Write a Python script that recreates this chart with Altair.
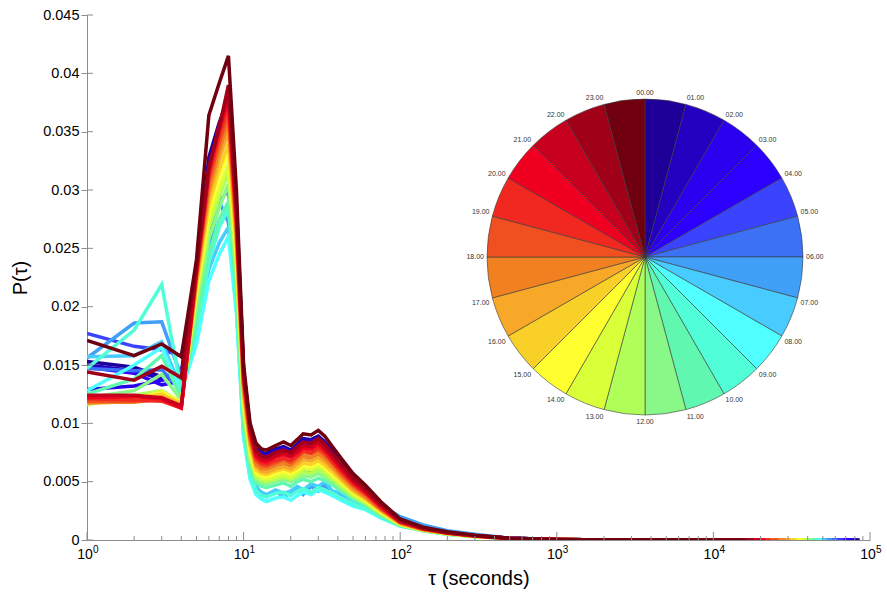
import altair as alt
import pandas as pd

HOURS = [f"{h:02d}" for h in range(24)]
LABELS = [f"{h:02d}.00" for h in range(24)]
COLORS = ["#1e0099", "#2400c0", "#2a00ef", "#2c00ff", "#3a44ff", "#3c70f5",
          "#40a0f8", "#48ccff", "#50ffff", "#50ffd8", "#60f8b0", "#88f888",
          "#b0ff58", "#d8ff38", "#ffff30", "#f8d028", "#f8a828", "#f08020",
          "#f05020", "#f02820", "#f00020", "#c80020", "#a00018", "#700010"]

TAU = [1, 2, 3, 4, 5, 6, 7, 8, 9, 10, 11, 12, 13, 14, 16, 18, 20, 22, 24, 27, 30,
       33, 37, 42, 50, 60, 75, 100, 140, 200, 300, 500, 1000]

P00 = [0.0153, 0.0148, 0.0140, 0.0143, 0.0236, 0.0328, 0.0358, 0.0378, 0.0286, 0.0146, 0.0095, 0.0079, 0.0075, 0.0074, 0.0078, 0.0080, 0.0077, 0.0082, 0.0087, 0.0086, 0.0089, 0.0084, 0.0076, 0.0067, 0.0055, 0.0046, 0.0032, 0.0018, 0.0011, 0.0007, 0.0004, 0.00015, 0.00005]
P01 = [0.0150, 0.0145, 0.0138, 0.0141, 0.0232, 0.0322, 0.0352, 0.0370, 0.0280, 0.0142, 0.0093, 0.0078, 0.0074, 0.0073, 0.0077, 0.0079, 0.0076, 0.0081, 0.0086, 0.0085, 0.0088, 0.0083, 0.0075, 0.0066, 0.0054, 0.0045, 0.0031, 0.0018, 0.0011, 0.00068, 0.00039, 0.00015, 0.00005]
P02 = [0.0129, 0.0132, 0.0137, 0.0140, 0.0228, 0.0316, 0.0346, 0.0364, 0.0274, 0.0139, 0.0091, 0.0077, 0.0073, 0.0072, 0.0075, 0.0078, 0.0075, 0.0080, 0.0084, 0.0083, 0.0086, 0.0082, 0.0073, 0.0064, 0.0053, 0.0044, 0.0031, 0.0017, 0.00105, 0.00066, 0.00038, 0.00014, 0.00005]
P03 = [0.0148, 0.0143, 0.0133, 0.0136, 0.0225, 0.0310, 0.0340, 0.0357, 0.0268, 0.0135, 0.0089, 0.0076, 0.0072, 0.0071, 0.0074, 0.0077, 0.0074, 0.0078, 0.0082, 0.0081, 0.0084, 0.0080, 0.0072, 0.0063, 0.0052, 0.0043, 0.0030, 0.0017, 0.00105, 0.00065, 0.00038, 0.00014, 0.00005]
P04 = [0.0177, 0.0166, 0.0163, 0.0158, 0.0215, 0.0290, 0.0318, 0.0335, 0.0250, 0.0122, 0.0079, 0.0066, 0.0062, 0.0061, 0.0064, 0.0066, 0.0063, 0.0067, 0.0071, 0.0069, 0.0072, 0.0068, 0.0062, 0.0054, 0.0045, 0.0037, 0.0027, 0.0016, 0.0010, 0.0006, 0.00036, 0.00014, 0.00005]
P05 = [0.0147, 0.0145, 0.0146, 0.0128, 0.0195, 0.0262, 0.0290, 0.0300, 0.0222, 0.0105, 0.0064, 0.0057, 0.0052, 0.0050, 0.0054, 0.0055, 0.0052, 0.0057, 0.0060, 0.0057, 0.0062, 0.0058, 0.0053, 0.0047, 0.0040, 0.0034, 0.0026, 0.0016, 0.0010, 0.0006, 0.00036, 0.00013, 0.00005]
P06 = [0.0156, 0.0186, 0.0187, 0.0140, 0.0185, 0.0250, 0.0290, 0.0272, 0.0205, 0.0095, 0.0057, 0.0046, 0.0040, 0.0037, 0.0042, 0.0037, 0.0040, 0.0044, 0.0039, 0.0046, 0.0042, 0.0047, 0.0038, 0.0039, 0.0034, 0.0031, 0.0030, 0.0020, 0.0013, 0.0008, 0.0005, 0.00016, 0.00007]
P07 = [0.0157, 0.0158, 0.0170, 0.0130, 0.0175, 0.0232, 0.0255, 0.0268, 0.0198, 0.0090, 0.0054, 0.0045, 0.0041, 0.0039, 0.0043, 0.0040, 0.0042, 0.0046, 0.0043, 0.0048, 0.0046, 0.0050, 0.0042, 0.0040, 0.0033, 0.0029, 0.0022, 0.0014, 0.0009, 0.0006, 0.0003, 0.00015, 0.00006]
P08 = [0.0128, 0.0150, 0.0165, 0.0127, 0.0168, 0.0222, 0.0245, 0.0260, 0.0195, 0.0088, 0.0052, 0.0039, 0.0035, 0.0033, 0.0036, 0.0037, 0.0034, 0.0038, 0.0041, 0.0039, 0.0043, 0.0041, 0.0038, 0.0034, 0.0029, 0.0026, 0.0019, 0.0012, 0.0009, 0.0005, 0.00035, 0.00013, 0.00006]
P09 = [0.0147, 0.0180, 0.0219, 0.0128, 0.0180, 0.0238, 0.0268, 0.0284, 0.0205, 0.0095, 0.0058, 0.0042, 0.0038, 0.0037, 0.0040, 0.0041, 0.0038, 0.0042, 0.0044, 0.0041, 0.0045, 0.0043, 0.0040, 0.0036, 0.0031, 0.0027, 0.0020, 0.0012, 0.0008, 0.0005, 0.0003, 0.00012, 0.00005]
P10 = [0.0125, 0.0138, 0.0158, 0.0122, 0.0188, 0.0245, 0.0275, 0.0290, 0.0212, 0.0100, 0.0062, 0.0049, 0.0046, 0.0045, 0.0047, 0.0049, 0.0046, 0.0050, 0.0052, 0.0050, 0.0053, 0.0051, 0.0047, 0.0042, 0.0035, 0.0030, 0.0021, 0.0013, 0.0008, 0.00052, 0.0003, 0.00012, 0.00005]
P11 = [0.0122, 0.0128, 0.0142, 0.0120, 0.0200, 0.0258, 0.0285, 0.0305, 0.0225, 0.0107, 0.0067, 0.0052, 0.0049, 0.0048, 0.0050, 0.0052, 0.0050, 0.0053, 0.0055, 0.0054, 0.0057, 0.0054, 0.0050, 0.0044, 0.0037, 0.0031, 0.0022, 0.0013, 0.00082, 0.00052, 0.00031, 0.00012, 0.00005]
P12 = [0.0116, 0.0124, 0.0128, 0.0118, 0.0207, 0.0268, 0.0294, 0.0315, 0.0232, 0.0112, 0.0071, 0.0054, 0.0051, 0.0050, 0.0052, 0.0054, 0.0052, 0.0055, 0.0058, 0.0057, 0.0060, 0.0057, 0.0052, 0.0046, 0.0038, 0.0032, 0.0023, 0.0013, 0.00083, 0.00053, 0.00031, 0.00012, 0.00005]
P13 = [0.0118, 0.0122, 0.0126, 0.0117, 0.0211, 0.0274, 0.0301, 0.0322, 0.0237, 0.0116, 0.0074, 0.0056, 0.0053, 0.0052, 0.0054, 0.0056, 0.0054, 0.0058, 0.0061, 0.0060, 0.0063, 0.0060, 0.0054, 0.0048, 0.0039, 0.0033, 0.0024, 0.0013, 0.00085, 0.00054, 0.00032, 0.00012, 0.00005]
P14 = [0.0119, 0.0121, 0.0127, 0.0118, 0.0215, 0.0281, 0.0310, 0.0332, 0.0244, 0.0120, 0.0077, 0.0058, 0.0055, 0.0054, 0.0057, 0.0059, 0.0057, 0.0060, 0.0064, 0.0063, 0.0066, 0.0062, 0.0056, 0.0050, 0.0041, 0.0034, 0.0024, 0.0014, 0.00087, 0.00055, 0.00032, 0.00012, 0.00005]
P15 = [0.0120, 0.0121, 0.0125, 0.0117, 0.0218, 0.0287, 0.0318, 0.0340, 0.0250, 0.0123, 0.0080, 0.0060, 0.0057, 0.0056, 0.0059, 0.0061, 0.0059, 0.0062, 0.0066, 0.0065, 0.0068, 0.0064, 0.0058, 0.0051, 0.0042, 0.0035, 0.0025, 0.0014, 0.00088, 0.00056, 0.00033, 0.00013, 0.00005]
P16 = [0.0117, 0.0119, 0.0123, 0.0116, 0.0221, 0.0294, 0.0327, 0.0350, 0.0257, 0.0127, 0.0083, 0.0063, 0.0059, 0.0058, 0.0061, 0.0063, 0.0061, 0.0065, 0.0069, 0.0068, 0.0071, 0.0067, 0.0061, 0.0053, 0.0043, 0.0036, 0.0026, 0.0014, 0.0009, 0.00057, 0.00033, 0.00013, 0.00005]
P17 = [0.0118, 0.0118, 0.0121, 0.0115, 0.0224, 0.0300, 0.0334, 0.0358, 0.0262, 0.0131, 0.0086, 0.0065, 0.0061, 0.0061, 0.0064, 0.0066, 0.0064, 0.0068, 0.0072, 0.0071, 0.0074, 0.0070, 0.0063, 0.0055, 0.0045, 0.0037, 0.0026, 0.0015, 0.0009, 0.00058, 0.00034, 0.00013, 0.00005]
P18 = [0.0119, 0.0119, 0.0120, 0.0114, 0.0226, 0.0307, 0.0341, 0.0365, 0.0268, 0.0134, 0.0088, 0.0068, 0.0064, 0.0063, 0.0066, 0.0069, 0.0066, 0.0071, 0.0075, 0.0074, 0.0077, 0.0073, 0.0066, 0.0057, 0.0047, 0.0039, 0.0027, 0.0015, 0.00093, 0.0006, 0.00035, 0.00013, 0.00005]
P19 = [0.0121, 0.0120, 0.0119, 0.0113, 0.0228, 0.0312, 0.0347, 0.0372, 0.0272, 0.0137, 0.0091, 0.0070, 0.0066, 0.0065, 0.0068, 0.0070, 0.0068, 0.0072, 0.0077, 0.0075, 0.0079, 0.0075, 0.0067, 0.0059, 0.0048, 0.0040, 0.0028, 0.0015, 0.00095, 0.0006, 0.00035, 0.00013, 0.00005]
P20 = [0.0122, 0.0123, 0.0121, 0.0113, 0.0230, 0.0316, 0.0352, 0.0378, 0.0276, 0.0140, 0.0093, 0.0072, 0.0068, 0.0067, 0.0071, 0.0073, 0.0071, 0.0075, 0.0079, 0.0078, 0.0082, 0.0077, 0.0070, 0.0061, 0.0050, 0.0041, 0.0029, 0.0016, 0.0010, 0.00062, 0.00036, 0.00014, 0.00005]
P21 = [0.0124, 0.0124, 0.0122, 0.0115, 0.0232, 0.0318, 0.0356, 0.0383, 0.0280, 0.0142, 0.0095, 0.0074, 0.0070, 0.0069, 0.0072, 0.0075, 0.0072, 0.0077, 0.0081, 0.0080, 0.0084, 0.0079, 0.0071, 0.0063, 0.0051, 0.0042, 0.0030, 0.0016, 0.0010, 0.00063, 0.00037, 0.00014, 0.00005]
P22 = [0.0144, 0.0137, 0.0149, 0.0139, 0.0235, 0.0320, 0.0354, 0.0390, 0.0285, 0.0145, 0.0097, 0.0077, 0.0072, 0.0071, 0.0075, 0.0077, 0.0075, 0.0080, 0.0084, 0.0083, 0.0087, 0.0082, 0.0074, 0.0065, 0.0053, 0.0044, 0.0031, 0.0017, 0.0010, 0.00065, 0.00038, 0.00014, 0.00005]
P23 = [0.0171, 0.0158, 0.0168, 0.0157, 0.0240, 0.0364, 0.0392, 0.0415, 0.0300, 0.0150, 0.0100, 0.0083, 0.0078, 0.0077, 0.0081, 0.0084, 0.0081, 0.0086, 0.0091, 0.0090, 0.0094, 0.0089, 0.0080, 0.0070, 0.0057, 0.0047, 0.0033, 0.0018, 0.0011, 0.0007, 0.0004, 0.00015, 0.00005]

SERIES = [P00, P01, P02, P03, P04, P05, P06, P07, P08, P09, P10, P11,
          P12, P13, P14, P15, P16, P17, P18, P19, P20, P21, P22, P23]

# long tail (all near zero); each hour's curve stops at its own largest tau
TAIL_TAU = [1500, 2500, 4000, 7000, 12000, 20000, 35000, 60000]
TAIL_P = [0.00003, 0.00002, 0.000015, 0.000012, 0.00001, 0.000008, 0.000006, 0.000005]
END_TAU = [86000, 84000, 80000, 75000, 68000, 62000, 57000, 53000, 50000, 47000,
           45000, 43000, 41000, 39000, 37000, 34000, 31000, 29000, 26000, 23000,
           21500, 20000, 18000, 16000]

Y_TICKS = [0, 0.005, 0.01, 0.015, 0.02, 0.025, 0.03, 0.035, 0.04, 0.045]
X_MAJOR = [1, 10, 100, 1000, 10000, 100000]
X_EXP = ["0", "1", "2", "3", "4", "5"]
X_MINOR = [m * d for d in [1, 10, 100, 1000, 10000] for m in range(2, 10)]

rows = []
for h, vals in enumerate(SERIES):
    for t, p in zip(TAU, vals):
        rows.append({"hour": HOURS[h], "tau": t, "p": p})
    for t, p in zip(TAIL_TAU, TAIL_P):
        if t < END_TAU[h]:
            rows.append({"hour": HOURS[h], "tau": t, "p": p})
    rows.append({"hour": HOURS[h], "tau": END_TAU[h], "p": TAIL_P[-1]})
df = pd.DataFrame(rows)

W, H = 783, 525
FONT = "Liberation Sans"
AX = "#8c8c8c"

x_scale = alt.Scale(type="log", domain=[1, 100000], nice=False)
y_scale = alt.Scale(domain=[0, 0.045], nice=False, zero=False)
color_scale = alt.Scale(domain=HOURS, range=COLORS)

lines = alt.Chart(df).mark_line(strokeWidth=3.5, clip=True).encode(
    x=alt.X("tau:Q", scale=x_scale,
            axis=alt.Axis(title="τ (seconds)", labels=False, ticks=False, grid=False,
                          domainColor=AX, titleFontSize=20, titleFont=FONT,
                          titleFontWeight="normal", titleColor="#000", titlePadding=28)),
    y=alt.Y("p:Q", scale=y_scale,
            axis=alt.Axis(title="P(τ)", values=Y_TICKS, format="~g", grid=False,
                          domainColor=AX, tickColor=AX, tickSize=6, labelPadding=2,
                          labelFont=FONT, labelFontSize=14.5, labelColor="#000",
                          titleFont=FONT, titleFontSize=20, titleFontWeight="normal",
                          titleColor="#000", titlePadding=12)),
    color=alt.Color("hour:N", scale=color_scale, legend=None),
)

ydf = pd.DataFrame({"p": Y_TICKS})
y_in = alt.Chart(ydf).mark_rule(color=AX, strokeWidth=1).encode(
    y=alt.Y("p:Q", scale=y_scale), x=alt.value(0), x2=alt.value(6))

majdf = pd.DataFrame({"tau": X_MAJOR, "e": X_EXP})
mindf = pd.DataFrame({"tau": X_MINOR})
x_major = alt.Chart(majdf).mark_rule(color=AX, strokeWidth=1).encode(
    x=alt.X("tau:Q", scale=x_scale), y=alt.value(H), y2=alt.value(H - 8))
x_minor = alt.Chart(mindf).mark_rule(color=AX, strokeWidth=1).encode(
    x=alt.X("tau:Q", scale=x_scale), y=alt.value(H), y2=alt.value(H - 4))
x_lab = alt.Chart(majdf).mark_text(font=FONT, fontSize=14, color="#000", align="center",
                                   baseline="top", dx=-2).encode(
    x=alt.X("tau:Q", scale=x_scale), y=alt.value(H + 8), text=alt.value("10"))
x_exp = alt.Chart(majdf).mark_text(font=FONT, fontSize=10, color="#000", align="left",
                                   baseline="top", dx=6).encode(
    x=alt.X("tau:Q", scale=x_scale), y=alt.value(H + 5), text="e:N")

# pie inset
pie_df = pd.DataFrame({"hour": HOURS, "a0": list(range(24)), "a1": list(range(1, 25)),
                       "label": LABELS})
theta_scale = alt.Scale(domain=[0, 24])
CX, CY, R = 558, 242, 158
arcs = alt.Chart(pie_df).mark_arc(radius=R, stroke="#3a3a3a", strokeWidth=0.6).encode(
    theta=alt.Theta("a0:Q", scale=theta_scale, stack=False),
    theta2="a1:Q",
    color=alt.Color("hour:N", scale=color_scale, legend=None),
    x=alt.value(CX), y=alt.value(CY),
)

groups = [
    ([0], "center", "bottom"),
    ([1, 2, 3, 4, 5], "left", "bottom"),
    ([6], "left", "middle"),
    ([7, 8, 9, 10, 11], "left", "top"),
    ([12], "center", "top"),
    ([13, 14, 15, 16, 17], "right", "top"),
    ([18], "right", "middle"),
    ([19, 20, 21, 22, 23], "right", "bottom"),
]
label_layers = []
for idx, al, bl in groups:
    sub = pie_df[pie_df["a0"].isin(idx)]
    label_layers.append(
        alt.Chart(sub).mark_text(font=FONT, fontSize=7, color="#333", align=al, baseline=bl).encode(
            theta=alt.Theta("a0:Q", scale=theta_scale, stack=False),
            radius=alt.value(R + 3),
            x=alt.value(CX), y=alt.value(CY),
            text="label:N",
        )
    )

chart = alt.layer(lines, y_in, x_major, x_minor, x_lab, x_exp, arcs, *label_layers).properties(
    width=W, height=H,
    autosize=alt.AutoSizeParams(type="none"),
    padding={"left": 87, "top": 15, "right": 17, "bottom": 52},
).configure_view(stroke=None)

chart.save("out.html", embed_options={"renderer": "svg", "actions": False})
